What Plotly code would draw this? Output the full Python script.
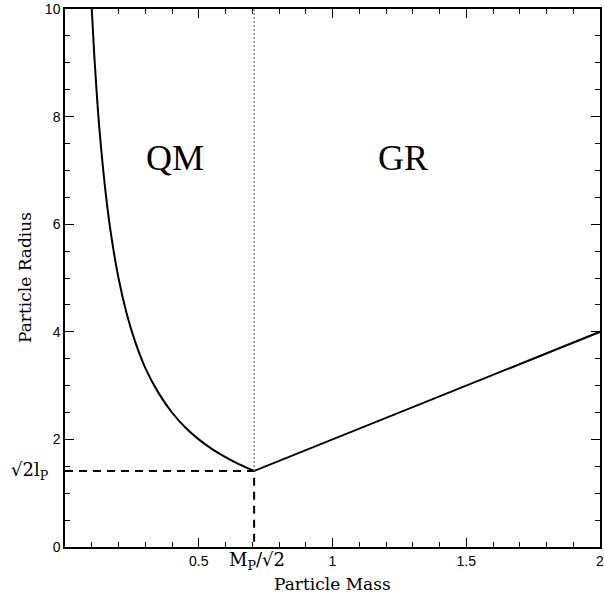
import plotly.graph_objects as go

# QM branch
qm_mass = [0.1, 0.11, 0.12, 0.13, 0.15, 0.17, 0.2, 0.23, 0.26, 0.3, 0.35, 0.4, 0.45, 0.5, 0.55, 0.6, 0.65, 0.707]
qm_radius = [10.0, 9.09, 8.33, 7.69, 6.67, 5.88, 5.0, 4.35, 3.85, 3.33, 2.86, 2.5, 2.22, 2.0, 1.82, 1.67, 1.54, 1.414]
# GR branch
gr_mass = [0.707, 2.0]
gr_radius = [1.414, 4.0]
# Planck point
planck_mass = 0.707
planck_radius = 1.414

x_tickvals = [0.5, 1, 1.5, 2]
x_ticktext = ["0.5", "1", "1.5", "2"]
y_tickvals = [0, 2, 4, 6, 8, 10]
y_ticktext = ["0", "2", "4", "6", "8", "10"]

serif = "DejaVu Serif, serif"
serif2 = "Liberation Serif, serif"
sans = "Liberation Sans, Arial, sans-serif"

fig = go.Figure()
fig.add_trace(go.Scatter(x=qm_mass, y=qm_radius, mode="lines",
                         line=dict(color="black", width=2, shape="spline"), hoverinfo="skip"))
fig.add_trace(go.Scatter(x=gr_mass, y=gr_radius, mode="lines",
                         line=dict(color="black", width=2), hoverinfo="skip"))
# dashed guide lines
fig.add_trace(go.Scatter(x=[0, planck_mass, planck_mass], y=[planck_radius, planck_radius, 0], mode="lines",
                         line=dict(color="black", width=2, dash="8px,6px"), hoverinfo="skip"))
# dotted vertical
fig.add_trace(go.Scatter(x=[planck_mass, planck_mass], y=[planck_radius, 10], mode="lines",
                         line=dict(color="#777777", width=1.2, dash="2px,2px"), hoverinfo="skip"))

axis_common = dict(showgrid=False, zeroline=False, showline=True, linecolor="black", linewidth=1.5,
                   mirror="ticks", ticks="inside", tickcolor="black", tickwidth=1, ticklen=9,
                   ticklabeloverflow="allow",
                   tickfont=dict(family=sans, size=14, color="black"))

fig.update_xaxes(range=[0, 2], tickvals=x_tickvals, ticktext=x_ticktext,
                 minor=dict(dtick=0.1, tick0=0, ticks="inside", ticklen=5, tickcolor="black", tickwidth=1),
                 **axis_common)
fig.update_yaxes(range=[0, 10], tickvals=y_tickvals, ticktext=y_ticktext,
                 minor=dict(dtick=0.5, tick0=0, ticks="inside", ticklen=5, tickcolor="black", tickwidth=1),
                 **axis_common)

# axis titles
fig.add_annotation(x=0.5, xref="paper", y=0, yref="paper", text="Particle Mass", showarrow=False,
                   xanchor="center", yanchor="middle", yshift=-37,
                   font=dict(family=serif, size=17, color="black"))
fig.add_annotation(x=0, xref="paper", y=0.5, yref="paper", text="Particle Radius", showarrow=False,
                   xanchor="center", yanchor="middle", xshift=-40, textangle=-90,
                   font=dict(family=serif, size=17, color="black"))

fig.add_annotation(x=0.411, y=7.23, text="QM", showarrow=False,
                   font=dict(family=serif2, size=36, color="black"))
fig.add_annotation(x=1.262, y=7.23, text="GR", showarrow=False,
                   font=dict(family=serif2, size=36, color="black"))
fig.add_annotation(x=0, y=planck_radius, text="√2l<sub>P</sub>", showarrow=False,
                   xanchor="right", xshift=-14, yanchor="middle",
                   font=dict(family=serif, size=18, color="black"))
fig.add_annotation(x=planck_mass, y=0, text="M<sub>P</sub>/√2", showarrow=False,
                   xanchor="center", yanchor="top", yshift=0, xshift=3,
                   font=dict(family=serif, size=18, color="black"))

fig.update_layout(width=604, height=596, margin=dict(l=65, r=0, t=9, b=49),
                  plot_bgcolor="white", paper_bgcolor="white", showlegend=False)

fig.write_html("out.html")
